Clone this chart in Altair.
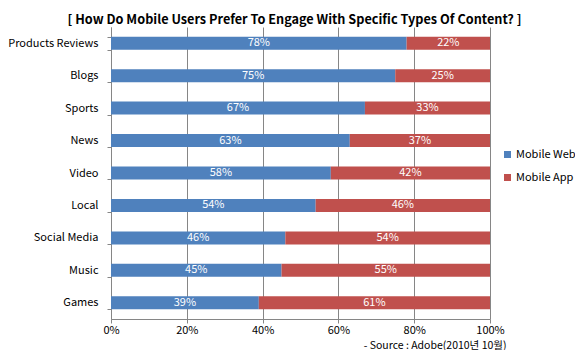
import altair as alt
import pandas as pd

categories = ["Products Reviews", "Blogs", "Sports", "News", "Video", "Local",
              "Social Media", "Music", "Games"]
mobile_web = [78, 75, 67, 63, 58, 54, 46, 45, 39]
mobile_app = [22, 25, 33, 37, 42, 46, 54, 55, 61]
series = ["Mobile Web", "Mobile App"]
colors = ["#4F81BD", "#C0504D"]

rows = []
for c, w, a in zip(categories, mobile_web, mobile_app):
    rows.append({"cat": c, "series": "Mobile Web", "ord": 0, "value": w / 100})
    rows.append({"cat": c, "series": "Mobile App", "ord": 1, "value": a / 100})
df = pd.DataFrame(rows)

FONT = "Noto Sans CJK KR"

base = alt.Chart(df).transform_stack(
    stack="value", groupby=["cat"], as_=["v0", "v1"],
    sort=[alt.SortField("ord", order="ascending")]
).transform_calculate(mid="(datum.v0 + datum.v1) / 2")

y_enc = alt.Y("cat:N", sort=categories, title=None,
              scale=alt.Scale(paddingInner=0.6, paddingOuter=0.3),
              axis=alt.Axis(tickBand="extent", tickSize=4, tickColor="#868686",
                            domainColor="#868686", labelFontSize=11,
                            labelColor="#000000", labelFont=FONT, labelPadding=9,
                            grid=False))

bars = base.mark_bar().encode(
    x=alt.X("v0:Q", scale=alt.Scale(domain=[0, 1]),
            axis=alt.Axis(format="%", values=[0, 0.2, 0.4, 0.6, 0.8, 1.0],
                          grid=True, gridColor="#868686", gridOpacity=1,
                          domainColor="#868686", tickColor="#868686", tickSize=4,
                          labelFontSize=11, labelColor="#000000", labelFont=FONT,
                          labelPadding=1,
                          title="- Source : Adobe(2010년 10월)",
                          titleFontWeight="normal", titleFontSize=10.5,
                          titleFont=FONT, titleColor="#000000",
                          titleAlign="right", titleBaseline="alphabetic",
                          titleX=395, titleY=29,
                          labelFlush=False)),
    x2="v1:Q",
    y=y_enc,
    color=alt.Color("series:N", scale=alt.Scale(domain=series, range=colors),
                    legend=alt.Legend(title=None, orient="none", legendX=391,
                                      legendY=122, symbolType="square",
                                      symbolSize=49, symbolStrokeWidth=0,
                                      labelFontSize=11, labelFont=FONT,
                                      labelColor="#000000", rowPadding=11,
                                      labelOffset=3, padding=0)),
    order=alt.Order("ord:Q"),
)

labels = base.mark_text(color="white", fontSize=11, font=FONT).encode(
    x="mid:Q",
    y=alt.Y("cat:N", sort=categories),
    text=alt.Text("value:Q", format=".0%"),
)

chart = alt.layer(bars, labels).properties(
    width=379, height=292,
    title=alt.Title("[ How Do Mobile Users Prefer To Engage With Specific Types Of Content? ]",
                    fontSize=12.7, fontWeight="bold", font=FONT, color="#000000",
                    anchor="middle", frame="group", dx=-6, dy=10, offset=4),
    autosize=alt.AutoSizeParams(type="none"),
    padding={"left": 103, "top": 19, "right": 85, "bottom": 31},
).configure_view(stroke=None)

chart.save("out.html", embed_options={"renderer": "svg", "actions": False})
